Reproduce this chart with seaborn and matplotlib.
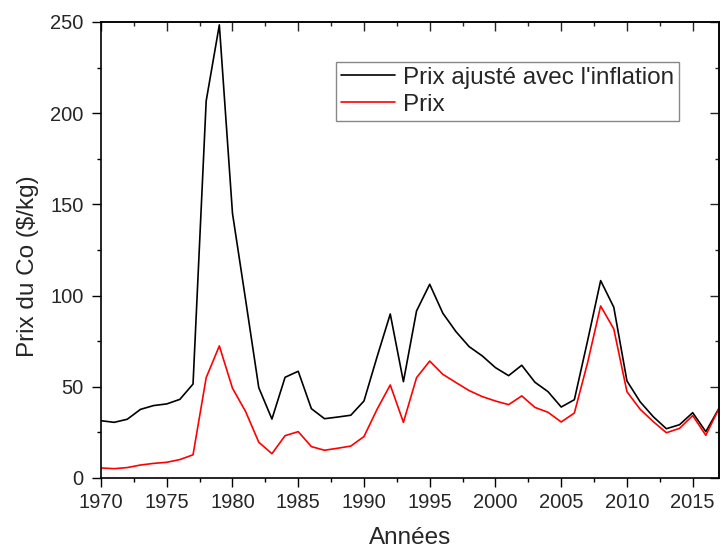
import pandas as pd
import seaborn as sns
import matplotlib.pyplot as plt
from matplotlib.ticker import MultipleLocator, NullFormatter

# données (prix du cobalt, $/kg)
annees = list(range(1970, 2018))
prix_ajuste = [31.4, 30.5, 32.2, 37.6, 39.7, 40.6, 43.1, 51.5, 206.7, 248.4,
               145.1, 97.6, 49.5, 32.3, 55.2, 58.5, 38.0, 32.5, 33.4, 34.4,
               42.2, 66.5, 89.9, 52.8, 91.6, 106.2, 90.3, 80.2, 72.0, 66.9,
               60.5, 56.1, 61.8, 52.5, 47.3, 38.9, 42.9, 75.0, 108.2, 93.6,
               53.2, 41.8, 33.6, 27.0, 29.2, 35.8, 25.4, 38.2]
prix = [5.5, 5.1, 5.7, 7.1, 8.0, 8.6, 10.1, 12.7, 55.0, 72.4,
        49.2, 36.4, 19.6, 13.3, 23.2, 25.4, 17.2, 15.2, 16.3, 17.5,
        22.7, 37.7, 51.0, 30.5, 55.0, 64.1, 56.8, 52.3, 47.9, 44.6,
        42.2, 40.2, 45.0, 38.7, 36.0, 30.7, 35.6, 63.0, 94.3, 81.7,
        47.3, 37.7, 30.9, 24.8, 27.2, 34.2, 23.4, 38.2]
noms = ["Prix ajusté avec l'inflation", "Prix"]
couleurs = ['black', 'red']

df = pd.DataFrame({'annee': annees, noms[0]: prix_ajuste, noms[1]: prix})
long = df.melt(id_vars='annee', var_name='serie', value_name='valeur')

sns.set_style('ticks')
plt.rcParams['font.family'] = ['Liberation Sans', 'DejaVu Sans']

fig = plt.figure(figsize=(7.25, 5.52), dpi=100)
ax = fig.add_axes([0.1393, 0.1341, 0.8524, 0.8261])

sns.lineplot(data=long, x='annee', y='valeur', hue='serie', hue_order=noms,
             palette=couleurs, linewidth=1.2, ax=ax)

ax.set_xlim(1970, 2017)
ax.set_ylim(0, 250)
ax.xaxis.set_major_locator(MultipleLocator(5))
ax.xaxis.set_minor_locator(MultipleLocator(2.5))
ax.yaxis.set_major_locator(MultipleLocator(50))
ax.yaxis.set_minor_locator(MultipleLocator(25))

for s in ax.spines.values():
    s.set_visible(True)
    s.set_linewidth(1.2)
    s.set_color('black')

ax.tick_params(which='major', direction='out', length=6.5, width=1.0,
               labelsize=14.5, color='black')
ax.tick_params(which='minor', direction='out', length=3.2, width=1.0, color='black')
ax.tick_params(axis='x', which='major', pad=4.5)
ax.tick_params(axis='y', which='major', pad=6)

# graduations intérieures en haut et à droite
top = ax.secondary_xaxis('top')
top.xaxis.set_major_locator(MultipleLocator(5))
top.xaxis.set_minor_locator(MultipleLocator(2.5))
top.xaxis.set_major_formatter(NullFormatter())
top.tick_params(which='major', direction='in', length=6.5, width=1.0)
top.tick_params(which='minor', direction='in', length=3.2, width=1.0)
top.spines['top'].set_linewidth(1.2)

right = ax.secondary_yaxis('right')
right.yaxis.set_major_locator(MultipleLocator(50))
right.yaxis.set_minor_locator(MultipleLocator(25))
right.yaxis.set_major_formatter(NullFormatter())
right.tick_params(which='major', direction='in', length=6.5, width=1.0)
right.tick_params(which='minor', direction='in', length=3.2, width=1.0)
right.spines['right'].set_linewidth(1.2)

ax.set_xlabel('Années', fontsize=17.5)
ax.set_ylabel('Prix du Co ($/kg)', fontsize=17.5)
ax.xaxis.set_label_coords(0.5, -0.108)
ax.yaxis.set_label_coords(-0.101, 0.465)

leg = ax.legend(loc='upper left', bbox_to_anchor=(0.381, 0.912), borderaxespad=0,
                fontsize=17.5, frameon=True, fancybox=False, framealpha=1,
                edgecolor='#888888', handlelength=2.2, handletextpad=0.35,
                borderpad=0.2, labelspacing=0.2, title=None)
leg.get_frame().set_linewidth(1.0)
for line in leg.get_lines():
    line.set_linewidth(1.2)

fig.savefig('out.png', dpi=100)
